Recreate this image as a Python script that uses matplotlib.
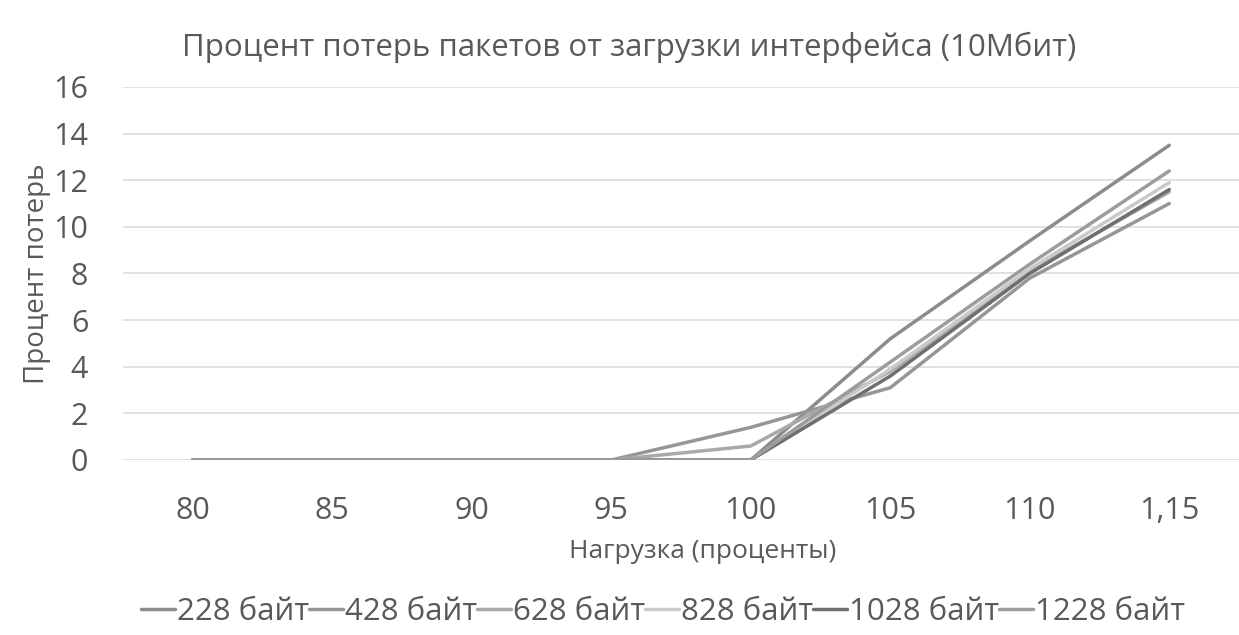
import matplotlib.pyplot as plt

# =========================
# DATA
# =========================

CATEGORIES = ["80", "85", "90", "95", "100", "105", "110", "1,15"]

S228 = [0, 0, 0, 0, 0.0, 5.2, 9.4, 13.5]
S428 = [0, 0, 0, 0, 1.4, 3.1, 7.8, 11.0]
S628 = [0, 0, 0, 0, 0.6, 3.8, 8.1, 11.5]
S828 = [0, 0, 0, 0, 0.0, 3.9, 8.2, 11.9]
S1028 = [0, 0, 0, 0, 0.0, 3.6, 8.0, 11.6]
S1228 = [0, 0, 0, 0, 0.0, 4.2, 8.4, 12.4]

SERIES = [
    ("228 байт", S228, "#8c8c8c"),
    ("428 байт", S428, "#969696"),
    ("628 байт", S628, "#a9a9a9"),
    ("828 байт", S828, "#cacaca"),
    ("1028 байт", S1028, "#6f6f6f"),
    ("1228 байт", S1228, "#9c9c9c"),
]

TEXT_COLOR = "#595959"
GRID_COLOR = "#d9d9d9"
FONT = "Open Sans"

# =========================
# PLOT
# =========================

plt.rcParams["font.family"] = [FONT, "DejaVu Sans"]

fig = plt.figure(figsize=(12.39, 6.35), dpi=100)
ax = fig.add_axes([0.0993, 0.2756, 0.9007, 0.5874])

xs = list(range(len(CATEGORIES)))
for label, vals, color in SERIES:
    ax.plot(xs, vals, color=color, linewidth=2.5, label=label,
            solid_capstyle="round", zorder=3)

ax.set_xlim(-0.5, len(CATEGORIES) - 0.5)
ax.set_ylim(0, 16)
ax.set_yticks(range(0, 17, 2))
ax.set_xticks(xs)
ax.set_xticklabels(CATEGORIES)

ax.grid(True, axis="y", color=GRID_COLOR, linewidth=1.1, zorder=0)
ax.grid(False, axis="x")
for spine in ax.spines.values():
    spine.set_visible(False)

ax.tick_params(length=0, labelsize=22, colors=TEXT_COLOR)
ax.tick_params(axis="x", pad=26)
ax.tick_params(axis="y", pad=25)

ax.set_xlabel("Нагрузка (проценты)", fontsize=19, color=TEXT_COLOR)
ax.xaxis.set_label_coords(0.519, -0.212)
ax.set_ylabel("Процент потерь", fontsize=20, color=TEXT_COLOR, labelpad=2)

fig.text(0.508, 0.925, "Процент потерь пакетов от загрузки интерфейса (10Мбит)",
         ha="center", va="center", fontsize=22.5, color=TEXT_COLOR)

leg = ax.legend(loc="center", ncol=6, frameon=False, fontsize=22.5,
                handlelength=1.1, handletextpad=0.05, columnspacing=0.0,
                borderaxespad=0)
leg.set_bbox_to_anchor((0.535, 0.036), transform=fig.transFigure)
for t in leg.get_texts():
    t.set_color(TEXT_COLOR)

fig.savefig("out.png", dpi=100, facecolor="white")
plt.close(fig)
